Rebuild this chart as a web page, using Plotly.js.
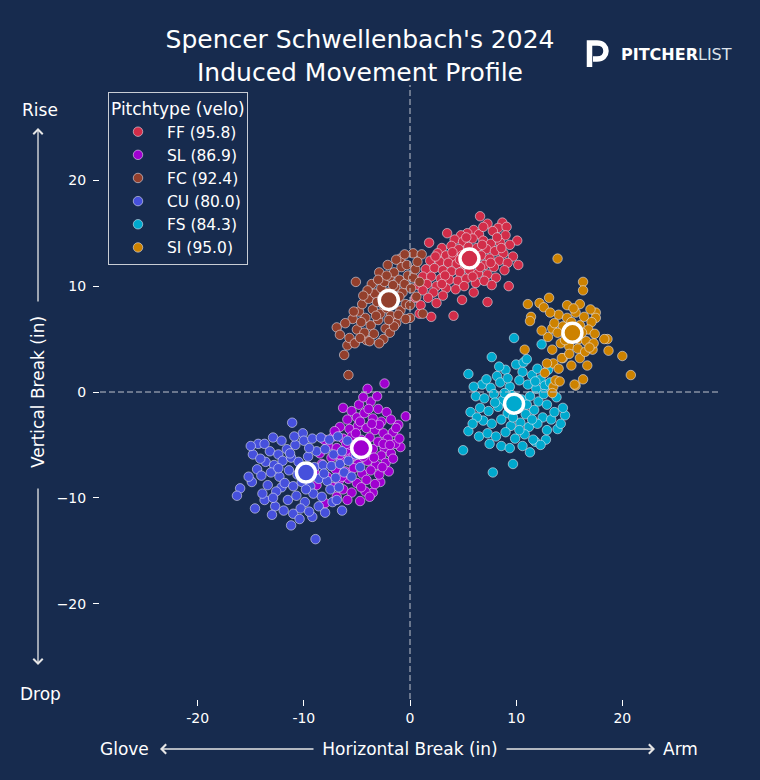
<!DOCTYPE html>
<html>
<head>
<meta charset="utf-8">
<script src="https://cdn.plot.ly/plotly-3.0.1.min.js"></script>
<style>
html,body{margin:0;padding:0;background:#172B4E;}
#chart{width:760px;height:780px;}
</style>
</head>
<body>
<div id="chart"></div>
<script>
// ---------------- DATA ----------------
const pitchTypes = ["FF", "SL", "FC", "CU", "FS", "SI"];
const velos = [95.8, 86.9, 92.4, 80.0, 84.3, 95.0];
const colors = ["#D22D49", "#A000D0", "#933F2C", "#4650DC", "#00A9CE", "#CD8200"];

// mean horizontal / vertical break per pitch type
const meanHB = [5.6, -4.6, -2.0, -9.8, 9.8, 15.3];
const meanVB = [12.6, -5.3, 8.7, -7.6, -1.1, 5.6];

const FF = [[6.6,16.6],[7.3,15.9],[8.7,16.0],[8.3,15.5],[9.1,15.6],[6.0,15.3],[5.4,15.0],[3.5,15.0],[4.8,14.8],[6.5,14.9],
[7.8,15.2],[9.0,14.8],[10.1,14.3],[4.2,14.4],[5.0,14.2],[5.9,14.5],[6.9,14.3],[7.6,14.0],[8.5,14.1],[9.4,13.9],
[3.0,13.6],[3.9,13.8],[4.6,13.5],[5.5,13.7],[6.3,13.6],[7.2,13.5],[8.0,13.3],[8.8,13.1],[9.7,12.8],[2.6,13.1],
[3.4,12.9],[4.1,12.8],[4.9,12.9],[5.8,13.0],[6.7,12.9],[7.5,12.6],[8.4,12.4],[9.2,12.2],[1.9,12.4],[2.8,12.3],
[3.6,12.2],[4.4,12.1],[5.2,12.0],[6.1,12.3],[7.0,12.0],[7.9,11.8],[8.9,11.5],[1.5,11.6],[2.3,11.7],[3.1,11.5],
[3.9,11.4],[4.7,11.3],[5.6,11.5],[6.4,11.2],[7.3,11.1],[8.1,10.8],[9.3,10.0],[1.2,10.9],[2.0,10.9],[2.9,10.7],
[3.7,10.6],[4.5,10.5],[5.3,10.7],[6.2,10.3],[7.0,10.5],[7.7,10.1],[0.8,10.1],[1.6,10.2],[2.5,10.0],[3.4,9.8],
[4.3,9.7],[5.1,10.0],[6.0,9.4],[2.2,9.4],[1.7,8.9],[3.1,9.1],[4.9,8.7],[2.0,7.1],[4.1,7.2],[7.3,8.5],
[0.9,7.4],[1.0,8.2],[0.5,8.9],[2.5,8.4],[1.8,14.1],[10.2,12.0],[4.0,13.2],[5.3,14.6],[6.8,13.9],[8.2,14.6],
[3.3,11.0],[6.6,11.8],[5.9,10.9],[8.6,13.6],[2.4,12.8],[4.7,12.5],[7.6,12.2],[3.0,10.2],[1.2,9.6],[6.9,15.6]];

const SL = [[-4.0,0.3],[-2.4,0.8],[-0.4,-2.3],[-6.3,-1.5],[-1.1,-3.1],[-0.9,-5.2],[-2.4,-5.3],[-4.7,-10.3],[-8.0,-10.5],[-3.5,-9.5],
[-4.2,-9.4],[-2.8,-8.5],[-5.5,-1.8],[-4.8,-1.2],[-3.7,-0.9],[-3.0,-1.6],[-2.2,-1.9],[-5.9,-2.6],[-5.0,-2.4],[-4.3,-2.0],
[-3.5,-2.5],[-2.7,-2.8],[-1.8,-2.6],[-6.6,-3.3],[-5.7,-3.5],[-4.9,-3.2],[-4.1,-3.4],[-3.3,-3.6],[-2.5,-3.9],[-1.6,-3.8],
[-7.2,-4.2],[-6.3,-4.4],[-5.5,-4.2],[-4.6,-4.5],[-3.8,-4.3],[-3.0,-4.7],[-2.1,-4.4],[-1.4,-4.9],[-7.7,-5.1],[-6.9,-5.3],
[-6.0,-5.6],[-5.2,-5.1],[-4.3,-5.8],[-3.5,-5.4],[-2.7,-6.0],[-1.8,-5.8],[-7.4,-6.2],[-6.5,-6.5],[-5.7,-6.3],[-4.9,-6.8],
[-4.0,-6.5],[-3.2,-6.9],[-2.3,-6.7],[-1.6,-6.3],[-8.3,-6.8],[-7.0,-7.3],[-6.1,-7.5],[-5.3,-7.2],[-4.5,-7.7],[-3.7,-7.4],
[-2.9,-7.8],[-2.0,-7.5],[-7.8,-8.0],[-6.7,-8.4],[-5.8,-8.2],[-5.0,-8.6],[-4.1,-8.3],[-3.3,-8.7],[-8.8,-8.8],[-7.3,-9.0],
[-6.3,-9.2],[-5.5,-9.5],[-4.6,-9.0],[-3.8,-9.9],[-6.9,-9.9],[-5.9,-10.2],[-5.1,-3.9],[-3.9,-1.6],[-2.9,-3.1],[-4.4,-6.1],
[-3.4,-6.2],[-5.6,-5.0],[-6.6,-5.9],[-2.5,-4.9],[-1.3,-3.4],[-4.7,-2.8],[-6.0,-4.9],[-7.1,-3.7],[-1.0,-4.4],[-3.1,-0.4],
[-4.4,-0.5],[-8.5,-5.8],[-8.1,-4.5],[-9.0,-7.6],[-1.9,-5.0],[-3.6,-3.0],[-5.3,-6.0],[-2.6,-7.1],[-4.8,-5.3],[-6.4,-8.0]];

const FC = [[-6.9,6.1],[-6.6,5.4],[-5.9,4.4],[-6.2,3.5],[-5.8,1.6],[-5.1,10.4],[-5.4,6.9],[-5.0,5.9],[-4.1,4.9],[-2.5,5.0],
[0.0,7.0],[1.2,7.4],[-0.9,12.6],[0.3,13.1],[1.1,13.0],[-4.8,7.6],[-4.5,8.3],[-4.2,7.0],[-3.9,8.8],[-3.7,6.3],
[-3.5,7.8],[-3.3,9.3],[-3.1,8.5],[-3.0,6.8],[-2.8,7.4],[-2.7,9.8],[-2.6,8.9],[-2.4,10.4],[-2.3,6.0],[-2.2,7.9],
[-2.0,9.4],[-1.9,10.9],[-1.8,7.2],[-1.7,8.4],[-1.5,11.3],[-1.4,9.9],[-1.3,6.5],[-1.2,8.9],[-1.0,10.6],[-0.9,7.7],
[-0.8,11.8],[-0.7,9.4],[-0.5,10.2],[-0.4,8.3],[-0.3,12.0],[-0.2,11.0],[0.1,9.8],[0.3,10.8],[0.5,11.6],[0.7,12.3],
[-4.3,5.6],[-3.8,4.8],[-3.4,5.5],[-2.9,4.6],[-1.9,5.6],[-1.5,6.2],[-4.6,6.6],[-5.3,7.6],[-3.6,10.2],[-2.9,11.3],
[-2.1,12.0],[-1.3,12.5],[-0.5,13.0],[-1.6,10.1],[-2.5,8.2],[-3.2,7.2],[-2.0,6.8],[-1.1,7.3],[-4.0,9.6],[-5.7,5.1],
[-5.2,4.6],[-4.7,5.1],[-3.0,10.6],[-1.0,9.0],[0.0,8.2],[0.6,9.0],[-0.4,6.9],[-6.1,6.5],[-4.4,9.1],[-2.2,11.0],[0.9,10.4]];

const CU = [[-11.1,-2.9],[-10.1,-3.9],[-14.3,-4.9],[-13.7,-4.9],[-12.9,-4.3],[-12.1,-4.6],[-14.8,-5.9],[-14.4,-7.3],[-16.0,-9.1],[-16.3,-9.8],
[-14.6,-11.0],[-12.7,-10.8],[-11.2,-12.6],[-8.9,-13.9],[-9.2,-11.8],[-13.7,-10.2],[-12.1,-9.0],[-13.2,-5.6],[-12.4,-5.9],[-11.6,-5.4],
[-10.8,-5.0],[-10.0,-4.6],[-9.2,-4.4],[-8.4,-4.3],[-7.6,-4.5],[-6.8,-4.2],[-13.6,-6.6],[-12.8,-6.9],[-12.0,-6.5],[-11.2,-6.2],
[-10.5,-6.6],[-9.6,-6.1],[-8.8,-5.6],[-8.0,-5.4],[-7.2,-5.9],[-6.4,-5.6],[-14.0,-7.9],[-13.1,-7.6],[-12.3,-8.0],[-11.4,-7.4],
[-10.6,-7.8],[-9.0,-7.1],[-8.2,-6.9],[-7.4,-7.0],[-6.6,-6.8],[-5.8,-6.5],[-13.4,-8.8],[-12.6,-9.4],[-11.8,-8.6],[-11.0,-8.9],
[-10.2,-8.5],[-9.4,-8.9],[-8.6,-8.2],[-7.8,-8.4],[-7.0,-8.1],[-6.2,-7.6],[-12.9,-10.0],[-11.5,-10.2],[-10.7,-9.8],[-9.9,-10.4],
[-9.1,-9.6],[-8.3,-9.9],[-7.5,-9.2],[-6.7,-9.0],[-11.9,-11.2],[-11.0,-11.5],[-10.3,-11.0],[-9.5,-11.3],[-8.6,-10.8],[-12.4,-7.2],
[-10.9,-4.2],[-9.5,-5.3],[-8.1,-7.7],[-5.5,-8.0],[-5.1,-5.9],[-4.7,-7.1],[-7.3,-10.4],[-14.9,-8.5],[-13.9,-9.6],[-15.2,-8.0],
[-6.4,-11.2],[-11.3,-5.8],[-9.8,-9.2],[-5.9,-4.6],[-15.0,-5.1],[-13.0,-11.6],[-10.4,-12.0],[-8.0,-11.4],[-14.1,-6.3],[-6.9,-10.2]];

const FS = [[9.8,5.1],[7.7,3.3],[5.5,1.7],[5.7,-1.9],[5.5,-3.7],[5.0,-5.5],[7.8,-7.6],[9.7,-6.8],[12.8,-4.5],[13.9,-3.5],
[14.6,-2.2],[14.4,-1.5],[12.4,4.5],[11.3,-5.7],[11.8,-4.7],[6.5,-4.2],[8.2,1.5],[9.0,2.1],[10.0,2.6],[10.6,1.9],
[11.5,1.6],[12.3,1.2],[13.0,2.1],[6.8,0.7],[7.6,0.4],[8.5,0.9],[9.4,0.5],[10.3,1.1],[11.1,0.7],[11.9,0.3],
[12.7,0.6],[13.4,0.0],[6.2,-0.4],[7.0,-0.6],[7.9,-0.2],[8.7,-0.8],[9.6,-0.3],[10.5,-0.7],[11.3,-0.4],[12.1,-0.9],
[12.9,-1.2],[6.6,-1.5],[7.4,-1.8],[8.3,-1.4],[9.2,-2.0],[10.1,-1.6],[10.9,-2.1],[11.7,-1.7],[12.5,-2.4],[13.3,-2.6],
[6.9,-2.7],[7.7,-3.0],[8.6,-2.6],[9.5,-3.2],[10.4,-2.9],[11.2,-3.3],[12.0,-3.0],[12.9,-3.6],[7.3,-3.9],[8.1,-4.2],
[9.0,-3.8],[9.9,-4.4],[10.8,-4.0],[11.6,-4.5],[8.6,-5.1],[9.4,-5.3],[10.6,-5.1],[12.3,-5.0],[6.0,0.5],[7.2,1.2],
[8.0,-1.0],[8.9,-0.1],[10.0,-1.0],[11.0,-1.2],[11.8,1.0],[9.2,1.3],[10.7,2.8],[13.8,-0.5],[13.6,-1.9],[14.2,-3.0],
[6.3,-2.4],[7.5,-4.9],[10.3,-3.6],[11.5,-2.6],[12.6,-0.2],[9.7,-2.4],[8.4,2.4],[13.2,0.9],[5.9,-3.0],[11.0,3.1],[12.0,2.2]];

const SI = [[13.9,12.6],[16.3,10.4],[16.3,9.6],[13.1,8.9],[11.1,8.3],[12.2,8.4],[12.6,8.0],[11.4,7.1],[11.3,6.7],[13.0,5.2],
[18.6,5.0],[20.0,3.4],[20.8,1.6],[14.4,3.2],[15.2,2.5],[16.0,3.2],[16.7,2.5],[16.3,1.2],[15.6,0.6],[13.9,1.0],
[13.5,2.7],[16.0,8.3],[17.5,7.5],[17.5,7.0],[17.2,4.0],[14.8,8.2],[18.3,5.0],[18.7,3.9],[13.4,4.0],[10.8,4.0],
[12.9,2.7],[14.3,3.2],[13.5,0.5],[13.4,-0.1],[15.5,0.7],[13.7,1.1],[14.1,1.0],[13.4,6.0],[14.0,7.3],[14.8,7.0],
[15.6,7.5],[16.4,7.1],[17.1,6.6],[13.6,6.5],[14.4,6.2],[15.2,6.6],[16.0,6.3],[16.8,5.9],[17.4,5.5],[13.9,5.6],
[14.7,5.3],[15.9,5.0],[16.6,4.8],[17.3,4.6],[14.2,4.6],[15.0,4.3],[15.8,4.1],[16.5,3.8],[15.4,7.9],[14.6,4.9],
[16.2,5.6],[15.6,5.9],[17.0,7.8],[13.2,7.5],[12.4,5.8],[15.0,3.6],[16.9,4.2],[12.7,1.8],[14.0,2.2]];

const pointsByType = [FF, SL, FC, CU, FS, SI];

const xTickVals = [-20, -10, 0, 10, 20];
const xTickText = ["-20", "-10", "0", "10", "20"];
const yTickVals = [-20, -10, 0, 10, 20];
const yTickText = ["\u221220", "\u221210", "0", "10", "20"];

// ---------------- LAYOUT HELPERS ----------------
const L = 100, R = 720, T = 85, B = 699;
const PX = p => (p - L) / (R - L);
const PY = p => (B - p) / (B - T);

const BG = "#172B4E";
const FONT = "DejaVu Sans, sans-serif";

const traces = [];
pitchTypes.forEach((pt, i) => {
  const pts = pointsByType[i];
  traces.push({
    type: "scatter", mode: "markers",
    x: pts.map(p => p[0]), y: pts.map(p => p[1]),
    name: pt + " (" + velos[i].toFixed(1) + ")",
    legendgroup: pt,
    marker: {color: colors[i], size: 9.5, line: {color: "rgba(235,235,245,0.8)", width: 0.7}},
    hoverinfo: "x+y+name"
  });
});
pitchTypes.forEach((pt, i) => {
  traces.push({
    type: "scatter", mode: "markers",
    x: [meanHB[i]], y: [meanVB[i]],
    showlegend: false, legendgroup: pt,
    marker: {color: colors[i], size: 19, line: {color: "#FFFFFF", width: 3.5}},
    hoverinfo: "skip"
  });
});

const arrowColor = "#E6E6E6";
const annotations = [
  {text: "Rise", x: PX(40), y: PY(110)},
  {text: "Drop", x: PX(40), y: PY(694)},
  {text: "Glove", x: PX(124), y: PY(749)},
  {text: "Arm", x: PX(680), y: PY(749)},
].map(a => Object.assign({xref: "paper", yref: "paper", showarrow: false,
  xanchor: "center", yanchor: "middle", font: {family: FONT, size: 17, color: "#FFFFFF"}}, a));

// arrows (head position + tail offset in pixels)
[[38, 128, 0, 175], [38, 665, 0, -178], [160, 749, 155, 0], [655, 749, -150, 0]].forEach(a => {
  annotations.push({xref: "paper", yref: "paper", x: PX(a[0]), y: PY(a[1]),
    ax: a[2], ay: a[3], axref: "pixel", ayref: "pixel", text: "", showarrow: true,
    arrowhead: 4, arrowsize: 1.4, arrowwidth: 1.3, arrowcolor: arrowColor, standoff: 0, startstandoff: 0});
});

// PITCHERLIST wordmark
annotations.push({xref: "paper", yref: "paper", x: PX(619), y: PY(55), xanchor: "left", yanchor: "middle",
  showarrow: false, text: "<b>PITCHER</b><span style='color:#DDE2EA'>LIST</span>",
  font: {family: FONT, size: 16, color: "#FFFFFF"}});

const shapes = [
  {type: "line", xref: "x", yref: "paper", x0: 0, x1: 0, y0: 0, y1: 1,
   line: {color: "#BFC3CC", width: 1, dash: "6px,3px"}},
  {type: "line", xref: "paper", yref: "y", x0: 0, x1: 1, y0: 0, y1: 0,
   line: {color: "#BFC3CC", width: 1, dash: "6px,3px"}},
  // "P" logo mark
  {type: "path", xref: "paper", yref: "paper",
   path: `M ${PX(589.5)},${PY(67)} L ${PX(589.5)},${PY(43)} L ${PX(597)},${PY(43)} ` +
         `C ${PX(609)},${PY(43)} ${PX(609)},${PY(59)} ${PX(597)},${PY(59)} L ${PX(593)},${PY(59)}`,
   line: {color: "#FFFFFF", width: 5.5}, fillcolor: "rgba(0,0,0,0)"}
];

const layout = {
  width: 760, height: 780,
  paper_bgcolor: BG, plot_bgcolor: BG,
  margin: {l: L, r: 760 - R, t: T, b: 780 - B, pad: 0},
  font: {family: FONT, color: "#FFFFFF", size: 14},
  title: {text: "Spencer Schwellenbach's 2024<br>Induced Movement Profile",
    x: 360 / 760, xref: "container", xanchor: "center",
    y: 1 - 48 / 780, yref: "container", yanchor: "middle",
    font: {family: FONT, size: 25, color: "#FFFFFF"}},
  xaxis: {range: [-29.2, 29.2], showgrid: false, zeroline: false, showline: false,
    tickmode: "array", tickvals: xTickVals, ticktext: xTickText,
    ticks: "outside", ticklen: 6, tickwidth: 1, tickcolor: "#FFFFFF",
    tickfont: {family: FONT, size: 14, color: "#FFFFFF"},
    title: {text: "Horizontal Break (in)", standoff: 18, font: {family: FONT, size: 17, color: "#FFFFFF"}},
    fixedrange: true},
  yaxis: {range: [-29, 29], showgrid: false, zeroline: false, showline: false,
    tickmode: "array", tickvals: yTickVals, ticktext: yTickText,
    ticks: "outside", ticklen: 6, tickwidth: 1, tickcolor: "#FFFFFF", ticklabelstandoff: 4,
    tickfont: {family: FONT, size: 14, color: "#FFFFFF"},
    title: {text: "Vertical Break (in)", standoff: 7, font: {family: FONT, size: 17, color: "#FFFFFF"}},
    fixedrange: true},
  legend: {x: PX(108), y: PY(92), xanchor: "left", yanchor: "top",
    bgcolor: BG, bordercolor: "#C8CCD4", borderwidth: 1,
    title: {text: "Pitchtype (velo)", font: {family: FONT, size: 17, color: "#FFFFFF"}, side: "top"},
    font: {family: FONT, size: 15.5, color: "#FFFFFF"},
    traceorder: "grouped", tracegroupgap: 0, itemwidth: 48},
  annotations: annotations,
  shapes: shapes,
  showlegend: true
};

Plotly.newPlot("chart", traces, layout, {displayModeBar: false, staticPlot: false});
</script>
</body>
</html>
